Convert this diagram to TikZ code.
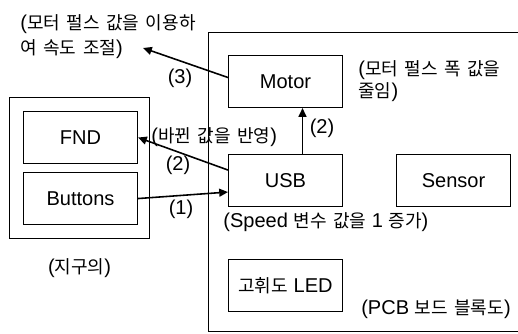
\documentclass[tikz,border=0pt]{standalone}
\usepackage{fontspec}
\setmainfont{Liberation Sans}
\newfontfamily\krfont[Scale=0.9, WordSpace=1.6]{Noto Sans CJK KR}
\newcommand{\kr}[1]{{\krfont #1}}
\usepackage{tikz}
\usetikzlibrary{positioning, arrows.meta}

\begin{document}
\begin{tikzpicture}[x=0.02cm, y=-0.02cm, font=\fontsize{11.4}{14}\selectfont,
  board/.style={draw, line width=0.7pt, inner sep=0pt},
  block/.style={draw, line width=0.6pt, minimum width=2.28cm, minimum height=1.04cm, inner sep=0pt},
  flow/.style={line width=0.9pt, -{Triangle[length=5pt, width=4.5pt]}},
  note/.style={anchor=west, align=left, inner sep=0pt}]
  \useasboundingbox (0,0) rectangle (518,334);
  % pcb board and globe frame
  \node[board, minimum width=6.44cm, minimum height=5.98cm, anchor=north west] (pcb) at (208,32) {};
  \node[board, minimum width=2.8cm, minimum height=2.82cm, anchor=north west] (globe) at (9,97) {};
  % globe blocks
  \node[block, anchor=north west] (fnd) at ([xshift=0.28cm, yshift=-0.28cm]globe.north west) {FND};
  \node[block, below=0.16cm of fnd] (buttons) {Buttons};
  % board blocks
  \node[block, anchor=north west] (motor) at ([xshift=0.4cm, yshift=-0.46cm]pcb.north west) {Motor};
  \node[block, below=0.92cm of motor] (usb) {USB};
  \node[block, right=1.06cm of usb] (sensor) {Sensor};
  \node[block, below=1.04cm of usb] (led) {\kr{고휘도} LED};
  % notes
  \node[note, font=\fontsize{11.4}{14.2}\selectfont] (speednote) at (20,37) {(\kr{모터 펄스 값을 이용하}\\\kr{여 속도 조절})};
  \coordinate (mtip) at (143,48);
  \node[note, font=\fontsize{11.4}{12.5}\selectfont, right=0.3cm of motor] (motornote) {(\kr{모터 펄스 폭 값을}\\\kr{줄임})};
  \node[note] (fndnote) at (151,137) {(\kr{바뀐 값을 반영})};
  \node[note] (usbnote) at (223,222) {(Speed \kr{변수 값을} 1 \kr{증가})};
  \node[below=0.26cm of globe] (globelabel) {(\kr{지구의})};
  \node[anchor=east] (pcblabel) at (517,309) {(PCB \kr{보드 블록도})};
  % arrows
  \draw[flow] (buttons.east) -- ([yshift=-0.23cm]usb.west);
  \draw[flow] ([yshift=0.21cm]usb.west) -- (fnd.east);
  \draw[flow] ([xshift=0.34cm]usb.north) -- ([xshift=0.34cm]motor.south);
  \draw[flow] ([yshift=0.08cm]motor.west) -- (mtip);
  \node (step1) at (181,209) {(1)};
  \node (step2a) at (178,165) {(2)};
  \node (step2b) at (322,128) {(2)};
  \node (step3) at (180,78) {(3)};
\end{tikzpicture}
\end{document}
